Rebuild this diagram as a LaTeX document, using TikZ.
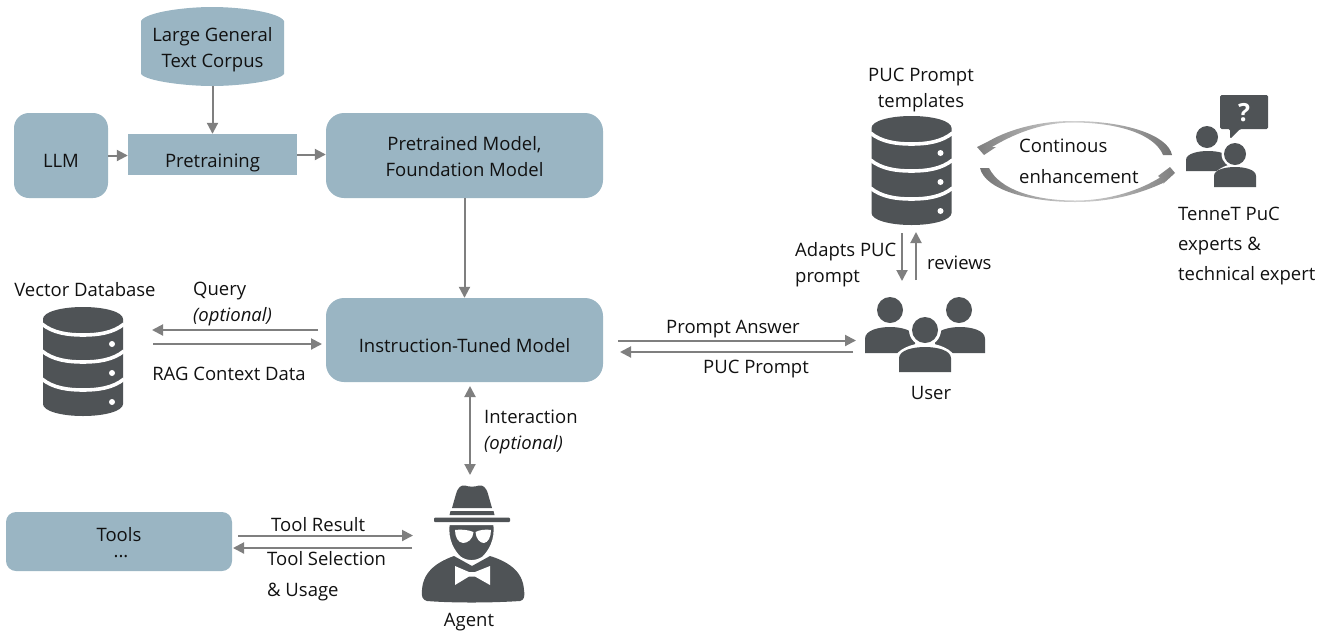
\documentclass[tikz,border=0pt]{standalone}
\usepackage{fontspec}
\setmainfont{Open Sans}
\usetikzlibrary{arrows.meta,positioning}
\definecolor{boxblue}{HTML}{9AB5C3}
\definecolor{icondark}{HTML}{4F5356}
\definecolor{linegray}{HTML}{7F7F7F}
\definecolor{txt}{HTML}{111111}
\tikzset{
  x=1pt,y=-1pt,
  lbl/.style={inner sep=0pt,text=txt,font=\fontsize{18.5}{26}\selectfont,align=center},
  lbll/.style={lbl,align=left},
  box/.style={fill=boxblue,draw=none,inner sep=0pt},
  rbox/.style={box,rounded corners=#1},
  conn/.style={draw=linegray,line width=2pt,-{Triangle[length=11pt,width=11pt]}},
  conn2/.style={draw=linegray,line width=2pt,{Triangle[length=11pt,width=11pt]}-{Triangle[length=11pt,width=11pt]}},
  holder/.style={inner sep=0pt,draw=none,fill=none},
  dbicon/.pic={
    \fill[icondark] (0,12) .. controls (0,5) and (18,0) .. (40,0) .. controls (62,0) and (80,5) .. (80,12)
       -- (80,97) .. controls (80,104) and (62,109) .. (40,109) .. controls (18,109) and (0,104) .. (0,97) -- cycle;
    \foreach \yy in {17,44,72}
      \draw[white,line width=3.6pt] (-1,\yy) .. controls (10,\yy+9) and (25,\yy+11) .. (40,\yy+11) .. controls (55,\yy+11) and (70,\yy+9) .. (81,\yy);
    \foreach \yy in {37,66,95}
      \fill[white] (69,\yy) circle[radius=3];
  }
}
\newcommand{\personbody}[5][icondark]{% left, right, top, bottom
  \fill[#1] (#2,#5) -- (#2,{#4+0.45*(#5-#4)})
    .. controls (#2,{#4+0.12*(#5-#4)}) and ({#2+0.28*(#3-#2)},#4) .. ({0.5*(#2+#3)},#4)
    .. controls ({#3-0.28*(#3-#2)},#4) and (#3,{#4+0.12*(#5-#4)}) .. (#3,{#4+0.45*(#5-#4)})
    -- (#3,#5) -- cycle;
}
\begin{document}
\begin{tikzpicture}
\useasboundingbox (0,0) rectangle (1328,633);

% cylinder
\fill[boxblue] (141,21) .. controls (146,12) and (185,7) .. (212,7) .. controls (240,7) and (279,12) .. (284,21)
  -- (284,74) .. controls (279,81) and (240,86) .. (212,86) .. controls (185,86) and (146,81) .. (141,74) -- cycle;
\node[holder,minimum width=143pt,minimum height=79pt] (corpus) at (212.5,46.5) {};
\node[lbl] (corpustxt) at (212.5,50) {Large General\\Text Corpus};

\node[rbox=15pt,minimum width=94pt,minimum height=85pt] (llm) at (61,155.5) {};
\node[lbl] (llmtxt) at (61,160.5) {LLM};
\node[box,minimum width=169pt,minimum height=41pt] (pre) at (212.5,154.5) {};
\node[lbl] (pretxt) at (212.5,163) {Pretraining};
\node[rbox=18pt,minimum width=277pt,minimum height=85pt] (pm) at (464.5,155.5) {};
\node[lbl] (pmtxt) at (464.5,157) {Pretrained Model,\\Foundation Model};
\node[rbox=18pt,minimum width=277pt,minimum height=84pt] (itm) at (464.5,340) {};
\node[lbl] (itmtxt) at (464.5,346) {Instruction-Tuned Model};
\node[rbox=10pt,minimum width=226pt,minimum height=59pt] (tools) at (119,541.5) {};
\node[lbl] (toolstxt) at (119,534.5) {Tools};
\node[lbl] (toolsdots) at (121,557) {...};

% icon holders
\node[holder,minimum width=80pt,minimum height=109pt] (vdb) at (83,361.5) {};
\pic at (43,307) {dbicon};
\node[holder,minimum width=80pt,minimum height=109pt] (puc) at (911.5,170.5) {};
\pic at (871.5,116) {dbicon};

% users
\node[holder,minimum width=120pt,minimum height=76pt] (user) at (925,335) {};
\personbody{865}{915}{327}{353}
\personbody{935}{985}{327}{353}
\fill[icondark] (890,310) circle[radius=13];
\fill[icondark] (959,310) circle[radius=13];
\fill[white] (925,330) circle[radius=16];
\fill[white] (895,374) -- (895,358) .. controls (896,350) and (912,343) .. (925,343) .. controls (938,343) and (954,350) .. (955,358) -- (955,374) -- cycle;
\fill[icondark] (925,330) circle[radius=13];
\personbody{899}{951}{347}{372}

% experts
\node[holder,minimum width=82pt,minimum height=92pt] (exp) at (1227,141) {};
\fill[icondark,rounded corners=1.5pt] (1220,95) -- (1268,95) -- (1268,129) -- (1240,129) -- (1230,139) -- (1230,129) -- (1220,129) -- cycle;
\node[inner sep=0pt,text=white,font=\fontsize{25}{25}\selectfont\bfseries] (qm) at (1244,113) {?};
\fill[icondark] (1207,137) circle[radius=11];
\personbody{1186}{1230}{151}{171}
\fill[white] (1235,154) circle[radius=13.5];
\fill[white] (1211,188) -- (1211,180) .. controls (1212,172) and (1225,164) .. (1235,164) .. controls (1245,164) and (1258,172) .. (1259,180) -- (1259,188) -- cycle;
\fill[icondark] (1235,154) circle[radius=11];
\personbody{1214}{1256}{167}{187}

% agent
\node[holder,minimum width=104pt,minimum height=116pt] (agent) at (473,544) {};
\fill[icondark] (452,508) -- (456,494) .. controls (458,487) and (461,485) .. (465,485.5) .. controls (469,487) and (475,487) .. (479,485.5) .. controls (483,485) and (486,487) .. (488,494) -- (492,508) -- cycle;
\fill[icondark] (450.5,511) -- (493.5,511) -- (494.5,515) -- (449.5,515) -- cycle;
\fill[icondark,rounded corners=1pt] (434,517.5) rectangle (510,522);
\fill[icondark] (454,556) -- (472,566) -- (490,556) .. controls (506,561) and (523,570) .. (524,590) .. controls (525,597) and (524,600) .. (520,601)
  .. controls (490,603) and (452,603) .. (427,601) .. controls (423,600) and (421,597) .. (422,590) .. controls (423,570) and (440,561) .. (454,556) -- cycle;
\filldraw[icondark,draw=white,line width=1.4pt] (449,524.5) -- (494,524.5) .. controls (496,540) and (489,551) .. (483,557) .. controls (476,562) and (467,562) .. (460,557) .. controls (454,551) and (447,540) .. (449,524.5) -- cycle;
\fill[white] (455,530) .. controls (461,529) and (469,530) .. (473.5,532) .. controls (473,539) and (468,543) .. (463,543) .. controls (458,542.5) and (455,537) .. (455,530) -- cycle;
\fill[white] (491,530) .. controls (486,529) and (479,530) .. (475.5,532) .. controls (476,539) and (480,543) .. (484,543) .. controls (488,542.5) and (491,537) .. (491,530) -- cycle;
\fill[white] (455,566) -- (469,572) -- (475,572) -- (490,566) -- (490,585) -- (475,576.5) -- (469,576.5) -- (455,585) -- cycle;

% connector ends
\coordinate (qa) at (318,330);  \coordinate (qb) at (152,330);
\coordinate (ra) at (153,344);  \coordinate (rb) at (322,344);
\coordinate (pa) at (618,340.5);  \coordinate (pb) at (856,340.5);
\coordinate (ua) at (853,352);  \coordinate (ub) at (620,352);
\coordinate (ia) at (470,386);  \coordinate (ib) at (470,475);
\coordinate (ta) at (238,535.5);  \coordinate (tb) at (413,535.5);
\coordinate (sa) at (412,548);  \coordinate (sb) at (233,548);
\coordinate (aa) at (902,233);  \coordinate (ab) at (902,281);
\coordinate (ba) at (916,280);  \coordinate (bb) at (916,232);

% connectors
\draw[conn] (llm.east) -- (llm.east -| pre.west);
\draw[conn] (pre.east) -- (pre.east -| pm.west);
\draw[conn] (corpus.south) -- (corpus.south |- pre.north);
\draw[conn] (pm.south) -- (itm.north);
\draw[conn] (qa) -- (qb);
\draw[conn] (ra) -- (rb);
\draw[conn] (pa) -- (pb);
\draw[conn] (ua) -- (ub);
\draw[conn2] (ia) -- (ib);
\draw[conn] (ta) -- (tb);
\draw[conn] (sa) -- (sb);
\draw[conn] (aa) -- (ab);
\draw[conn] (ba) -- (bb);

% enhancement arrows
\path[left color=linegray,right color=linegray!90!black,middle color=linegray!35]
  (1172,155) .. controls (1168,135) and (1125,121) .. (1073,121) .. controls (1040,121) and (1010,129) .. (989,141)
  -- (977,147) -- (984,155) -- (996,147) -- (992,147) .. controls (1012,135) and (1040,122.5) .. (1073,122.5)
  .. controls (1120,122.5) and (1155,135) .. (1163,155) -- cycle;
\path[left color=linegray!90!black,right color=linegray,middle color=linegray!35]
  (980,168) .. controls (985,190) and (1030,202) .. (1075,202) .. controls (1110,202) and (1140,194) .. (1165,182)
  -- (1163,184) -- (1175,173) -- (1170,167) -- (1158,176) -- (1160,177.5) .. controls (1140,190) and (1110,200.5) .. (1075,200.5)
  .. controls (1035,200.5) and (1000,190) .. (989,168) -- cycle;

% labels
\node[lbl] (ltmpl) at (921,90) {PUC Prompt\\templates};
\node[lbll,anchor=west] (lcont) at (1019,146) {Continous};
\node[lbll,anchor=west] (lenh) at (1019,177) {enhancement};
\node[lbll,anchor=west] (lexp) at (1178,246) {TenneT PuC\\[4pt]experts \&\\[4pt]technical expert};
\node[lbll,anchor=west] (ladapt) at (795,265) {Adapts PUC\\prompt};
\node[lbl,anchor=west] (lrev) at (927,263) {reviews};
\node[lbl] (luser) at (931,393) {User};
\node[lbl] (lvdb) at (85,290) {Vector Database};
\node[lbl,anchor=west] (lq) at (193,291) {Query};
\node[lbl,anchor=west] (lqo) at (193,317) {\itshape (optional)};
\node[lbl] (lrag) at (229,374) {RAG Context Data};
\node[lbl] (lpa) at (733,329) {Prompt Answer};
\node[lbl] (lpp) at (756,369) {PUC Prompt};
\node[lbll,anchor=west] (lint) at (484,432) {Interaction\\\itshape (optional)};
\node[lbl,anchor=west] (ltr) at (271,525) {Tool Result};
\node[lbll,anchor=west] (lts) at (267,576) {Tool Selection\\[5pt]\& Usage};
\node[lbl] (lag) at (469,622) {Agent};
\end{tikzpicture}
\end{document}
